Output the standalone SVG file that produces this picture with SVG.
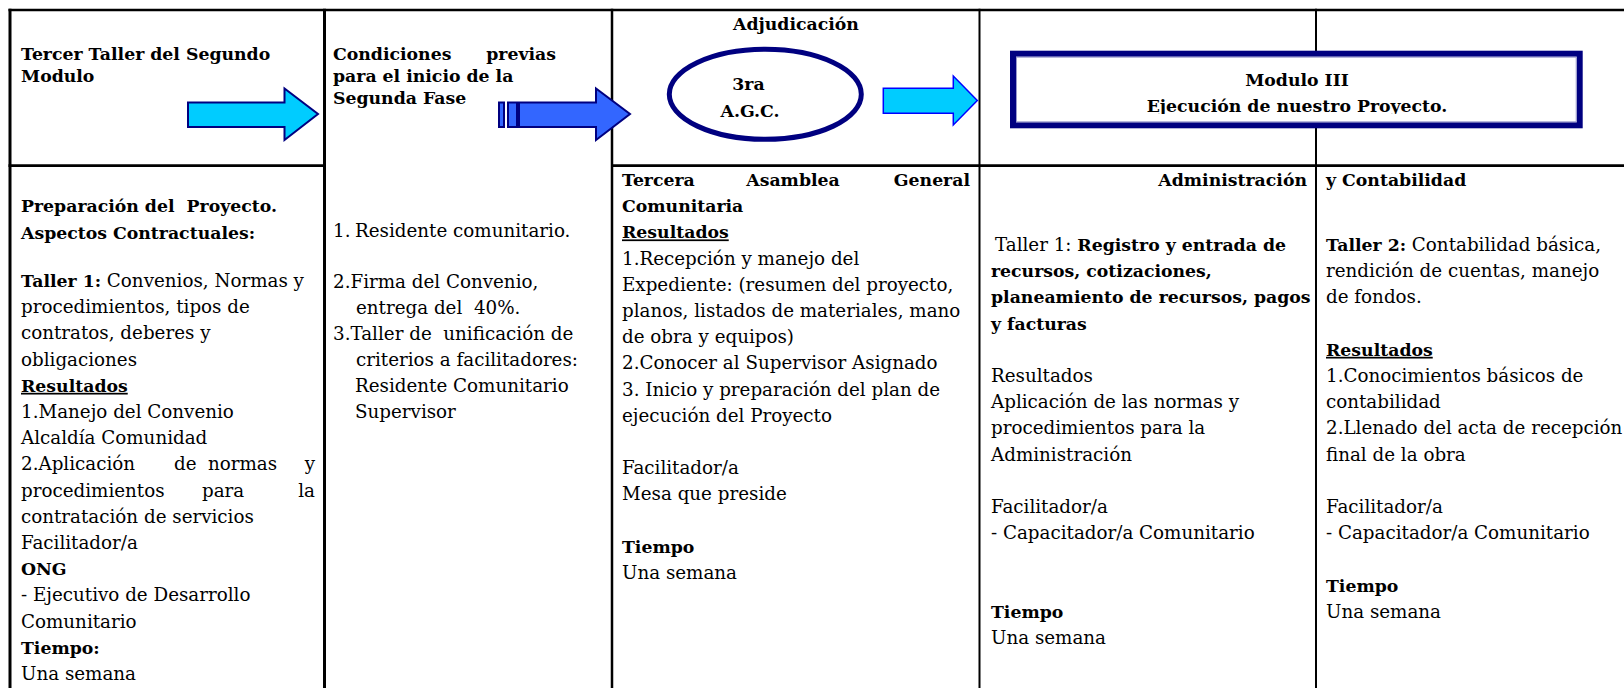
<svg xmlns="http://www.w3.org/2000/svg" width="1624" height="688" viewBox="0 0 1624 688">
<style>
text{font-family:"DejaVu Serif",serif;fill:#000;font-size:18.3px}
.b{font-weight:bold;font-size:17.3px}
.u{text-decoration:underline}
#grid line{stroke:#000}
.arrowCyan{fill:#00CCFF;stroke:#000080;stroke-width:2;stroke-linejoin:miter}
.arrowBlue{fill:#3366FF;stroke:#000080;stroke-width:2}
.arrowCyan2{fill:#00CCFF;stroke:#0000FF;stroke-width:1.5}
</style>
<defs>
<clipPath id="clipEj"><rect x="1016" y="57" width="560" height="57"/></clipPath>
</defs>
<rect width="1624" height="688" fill="#fff"/>

<g id="grid">
<line x1="8.5" y1="10" x2="1624" y2="10" stroke-width="2.7"/>
<line x1="8.5" y1="165.7" x2="326" y2="165.7" stroke-width="2.7"/>
<line x1="611" y1="165.7" x2="1624" y2="165.7" stroke-width="2.7"/>
<line x1="10" y1="8.7" x2="10" y2="688" stroke-width="3"/>
<line x1="324.5" y1="8.7" x2="324.5" y2="688" stroke-width="3"/>
<line x1="612" y1="8.7" x2="612" y2="688" stroke-width="2.5"/>
<line x1="979.5" y1="8.7" x2="979.5" y2="688" stroke-width="2"/>
<line x1="1316" y1="8.7" x2="1316" y2="688" stroke-width="2"/>
</g>

<g id="cell-header-1">
<text class="b" x="21" y="60">Tercer Taller del Segundo</text>
<text class="b" x="21" y="82">Modulo</text>
</g>

<g id="cell-header-2">
<text class="b" x="333" y="60">Condiciones</text>
<text class="b" x="556" y="60" text-anchor="end">previas</text>
<text class="b" x="333" y="82">para el inicio de la</text>
<text class="b" x="333" y="104">Segunda Fase</text>
</g>

<g id="cell-header-3">
<text class="b" x="796" y="30" text-anchor="middle">Adjudicación</text>
</g>

<g id="node-agc">
<ellipse cx="765.3" cy="94.3" rx="96" ry="45" fill="none" stroke="#000080" stroke-width="5"/>
<text class="b" x="748.5" y="90" text-anchor="middle">3ra</text>
<text class="b" x="750" y="117" text-anchor="middle">A.G.C.</text>
</g>

<g id="node-modulo-iii">
<rect x="1013" y="53.7" width="566.7" height="71.6" fill="#fff" stroke="#000080" stroke-width="6"/>
<rect x="1016.5" y="57.2" width="559.7" height="64.6" fill="none" stroke="#9999CC" stroke-width="1"/>
<text class="b" x="1297" y="86" text-anchor="middle">Modulo III</text>
<g clip-path="url(#clipEj)"><text class="b" x="1297" y="111.5" text-anchor="middle">Ejecución de nuestro Proyecto.</text></g>
</g>

<g id="connectors">
<path class="arrowCyan" d="M188,102.5 L284.5,102.5 L284.5,88.5 L318,114 L284.5,140 L284.5,127 L188,127 Z"/>
<rect class="arrowBlue" x="499" y="102.5" width="5" height="24.5"/>
<rect class="arrowBlue" x="508" y="102.5" width="9" height="24.5"/>
<path class="arrowBlue" d="M519,102.5 L596,102.5 L596,88.5 L630,114 L596,140 L596,127 L519,127 Z"/>
<path class="arrowCyan2" d="M883.3,88.3 L953.3,88.3 L953.3,76 L977.3,100.5 L953.3,125 L953.3,113.3 L883.3,113.3 Z"/>
</g>

<g id="cell-body-1">
<text class="b" x="21" y="212" xml:space="preserve">Preparación del  Proyecto.</text>
<text class="b" x="21" y="238.5">Aspectos Contractuales:</text>
<text x="21" y="287"><tspan class="b">Taller 1:</tspan> Convenios, Normas y</text>
<text x="21" y="313.2">procedimientos, tipos de</text>
<text x="21" y="339.4">contratos, deberes y</text>
<text x="21" y="365.6">obligaciones</text>
<text class="b u" x="21" y="391.8">Resultados</text>
<text x="21" y="418">1.Manejo del Convenio</text>
<text x="21" y="444.2">Alcaldía Comunidad</text>
<text x="21" y="470.4">2.Aplicación</text>
<text x="174" y="470.4">de</text>
<text x="208" y="470.4">normas</text>
<text x="315" y="470.4" text-anchor="end">y</text>
<text x="21" y="496.6">procedimientos</text>
<text x="202" y="496.6">para</text>
<text x="315" y="496.6" text-anchor="end">la</text>
<text x="21" y="522.8">contratación de servicios</text>
<text x="21" y="549">Facilitador/a</text>
<text class="b" x="21" y="575.2">ONG</text>
<text x="21" y="601.4">- Ejecutivo de Desarrollo</text>
<text x="21" y="627.6">Comunitario</text>
<text class="b" x="21" y="653.8">Tiempo:</text>
<text x="21" y="680">Una semana</text>
</g>

<g id="cell-body-2">
<text x="333" y="236.5">1.</text>
<text x="355" y="236.5">Residente comunitario.</text>
<text x="333" y="288.3">2.Firma del Convenio,</text>
<text x="356" y="314.2" xml:space="preserve">entrega del  40%.</text>
<text x="333" y="340.1" xml:space="preserve">3.Taller de  unificación de</text>
<text x="356" y="366">criterios a facilitadores:</text>
<text x="355" y="391.9">Residente Comunitario</text>
<text x="355" y="417.8">Supervisor</text>
</g>

<g id="cell-body-3">
<text class="b" x="622" y="186">Tercera</text>
<text class="b" x="793" y="186" text-anchor="middle">Asamblea</text>
<text class="b" x="970" y="186" text-anchor="end">General</text>
<text class="b" x="622" y="212.2">Comunitaria</text>
<text class="b u" x="622" y="238.4">Resultados</text>
<text x="622" y="264.6">1.Recepción y manejo del</text>
<text x="622" y="290.8">Expediente: (resumen del proyecto,</text>
<text x="622" y="317">planos, listados de materiales, mano</text>
<text x="622" y="343.2">de obra y equipos)</text>
<text x="622" y="369.4">2.Conocer al Supervisor Asignado</text>
<text x="622" y="395.6">3. Inicio y preparación del plan de</text>
<text x="622" y="421.8">ejecución del Proyecto</text>
<text x="622" y="474.2">Facilitador/a</text>
<text x="622" y="500.4">Mesa que preside</text>
<text class="b" x="622" y="552.8">Tiempo</text>
<text x="622" y="579">Una semana</text>
</g>

<g id="cell-body-4">
<text class="b" x="1307" y="186" text-anchor="end">Administración</text>
<text x="995" y="251">Taller 1: <tspan class="b">Registro y entrada de</tspan></text>
<text class="b" x="991" y="277.2">recursos, cotizaciones,</text>
<text class="b" x="991" y="303.4">planeamiento de recursos, pagos</text>
<text class="b" x="991" y="329.6">y facturas</text>
<text x="991" y="382">Resultados</text>
<text x="991" y="408.2">Aplicación de las normas y</text>
<text x="991" y="434.4">procedimientos para la</text>
<text x="991" y="460.6">Administración</text>
<text x="991" y="513">Facilitador/a</text>
<text x="991" y="539.2">- Capacitador/a Comunitario</text>
<text class="b" x="991" y="617.8">Tiempo</text>
<text x="991" y="644">Una semana</text>
</g>

<g id="cell-body-5">
<text class="b" x="1326" y="186">y Contabilidad</text>
<text x="1326" y="251"><tspan class="b">Taller 2:</tspan> Contabilidad básica,</text>
<text x="1326" y="277.2">rendición de cuentas, manejo</text>
<text x="1326" y="303.4">de fondos.</text>
<text class="b u" x="1326" y="355.8">Resultados</text>
<text x="1326" y="382">1.Conocimientos básicos de</text>
<text x="1326" y="408.2">contabilidad</text>
<text x="1326" y="434.4">2.Llenado del acta de recepción</text>
<text x="1326" y="460.6">final de la obra</text>
<text x="1326" y="513">Facilitador/a</text>
<text x="1326" y="539.2">- Capacitador/a Comunitario</text>
<text class="b" x="1326" y="591.6">Tiempo</text>
<text x="1326" y="617.8">Una semana</text>
</g>
</svg>
